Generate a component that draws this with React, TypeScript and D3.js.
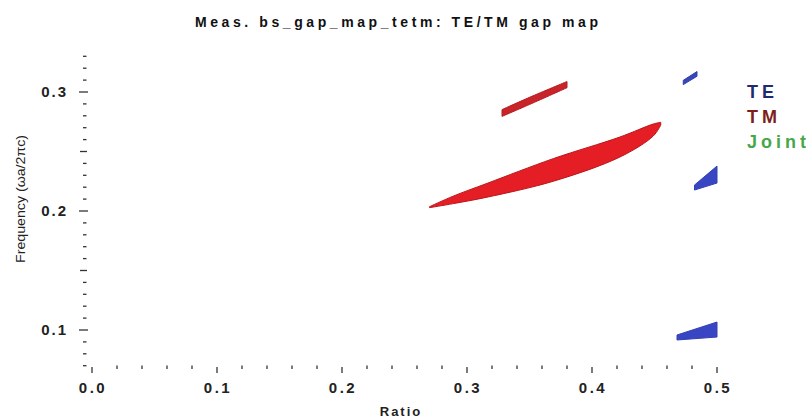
import React, { useEffect, useRef } from 'react'
import * as d3 from 'd3'

// gap regions: x = ratio, [lower, upper] frequency edges
const tmBigX = [0.27, 0.289, 0.316, 0.369, 0.4224, 0.449, 0.455]
const tmBigLo = [0.2028, 0.2062, 0.2116, 0.2250, 0.2454, 0.2630, 0.2722]
const tmBigHi = [0.2036, 0.2125, 0.2232, 0.2440, 0.2622, 0.2731, 0.2745]

const tmSmallX = [0.328, 0.35, 0.38]
const tmSmallLo = [0.2795, 0.2895, 0.3036]
const tmSmallHi = [0.2852, 0.2955, 0.3088]

const teTopX = [0.473, 0.484]
const teTopLo = [0.3062, 0.3132]
const teTopHi = [0.3098, 0.3172]

const teMidX = [0.482, 0.5]
const teMidLo = [0.2176, 0.2235]
const teMidHi = [0.2218, 0.2378]

const teLowX = [0.468, 0.5]
const teLowLo = [0.0916, 0.0941]
const teLowHi = [0.0958, 0.1067]

const xTickLabels = ['0.0', '0.1', '0.2', '0.3', '0.4', '0.5']
const yTickLabels = ['0.1', '0.2', '0.3']
const legendItems = ['TE', 'TM', 'Joint']
const legendColors = ['#1f2b6e', '#7e1d1a', '#47a84a']

const W = 806
const H = 418

export default function App() {
  const ref = useRef<SVGSVGElement>(null)

  useEffect(() => {
    document.body.style.margin = '0'
    const svg = d3.select(ref.current)
    svg.selectAll('*').remove()

    const x = d3.scaleLinear().domain([0, 0.5]).range([92, 717])
    const y = d3.scaleLinear().domain([0.1, 0.3]).range([330, 92])
    const font = 'Arial, "Liberation Sans", sans-serif'

    // title
    svg
      .append('text')
      .attr('x', 195)
      .attr('y', 27)
      .attr('textLength', 403)
      .attr('lengthAdjust', 'spacing')
      .style('font', 'bold 14px ' + font)
      .attr('fill', '#111')
      .text('Meas. bs_gap_map_tetm: TE/TM gap map')

    const area = d3
      .area<number>()
      .curve(d3.curveCatmullRom.alpha(0.5))

    function region(xs: number[], lo: number[], hi: number[], fill: string, stroke: string) {
      const idx = xs.map((_, i) => i)
      area
        .x((i) => x(xs[i]))
        .y0((i) => y(lo[i]))
        .y1((i) => y(hi[i]))
      svg
        .append('path')
        .attr('d', area(idx))
        .attr('fill', fill)
        .attr('stroke', stroke)
        .attr('stroke-width', 1)
        .attr('stroke-linejoin', 'round')
    }

    region(tmBigX, tmBigLo, tmBigHi, '#e51d24', '#b8161b')
    region(tmSmallX, tmSmallLo, tmSmallHi, '#c8242a', '#b31f24')
    region(teTopX, teTopLo, teTopHi, '#3846b8', '#3441a8')
    region(teMidX, teMidLo, teMidHi, '#3846c4', '#3441b0')
    region(teLowX, teLowLo, teLowHi, '#3846c4', '#3441b0')

    // y axis ticks
    const yt = svg.append('g').attr('stroke', '#333').attr('stroke-width', 1.3)
    d3.range(7, 34).forEach((k) => {
      const v = k / 100
      const major = k % 10 === 0
      const mid = k % 5 === 0 && !major
      yt.append('line')
        .attr('x1', major ? 79 : mid ? 80 : 83)
        .attr('x2', major ? 88 : mid ? 87 : 86.5)
        .attr('y1', y(v))
        .attr('y2', y(v))
    })
    yTickLabels.forEach((t) => {
      svg
        .append('text')
        .attr('x', 68)
        .attr('y', y(+t) + 5)
        .attr('text-anchor', 'end')
        .attr('letter-spacing', 2)
        .style('font', 'bold 15px ' + font)
        .attr('fill', '#222')
        .text(t)
    })

    // x axis ticks
    const xt = svg.append('g').attr('stroke', '#333').attr('stroke-width', 1.3)
    d3.range(0, 26).forEach((k) => {
      const v = k * 0.02
      const major = k % 5 === 0
      xt.append('line')
        .attr('x1', x(v))
        .attr('x2', x(v))
        .attr('y1', major ? 367 : 365.5)
        .attr('y2', major ? 373 : 369)
    })
    xTickLabels.forEach((t) => {
      svg
        .append('text')
        .attr('x', x(+t) + 1)
        .attr('y', 393)
        .attr('text-anchor', 'middle')
        .attr('letter-spacing', 2.5)
        .style('font', 'bold 15px ' + font)
        .attr('fill', '#222')
        .text(t)
    })

    svg
      .append('text')
      .attr('x', 401)
      .attr('y', 416)
      .attr('text-anchor', 'middle')
      .attr('letter-spacing', 2)
      .style('font', 'bold 13px ' + font)
      .attr('fill', '#222')
      .text('Ratio')

    svg
      .append('text')
      .attr('transform', 'translate(25,199) rotate(-90)')
      .attr('text-anchor', 'middle')
      .attr('textLength', 128)
      .attr('lengthAdjust', 'spacingAndGlyphs')
      .style('font', '13px ' + font)
      .attr('fill', '#222')
      .text('Frequency (ωa/2πc)')

    // legend
    legendItems.forEach((t, i) => {
      svg
        .append('text')
        .attr('x', 747)
        .attr('y', 98 + i * 25)
        .attr('letter-spacing', 4)
        .style('font', 'bold 18px ' + font)
        .attr('fill', legendColors[i])
        .text(t)
    })
  }, [])

  return <svg ref={ref} width={W} height={H} style={{ display: 'block', background: '#fff' }} />
}
